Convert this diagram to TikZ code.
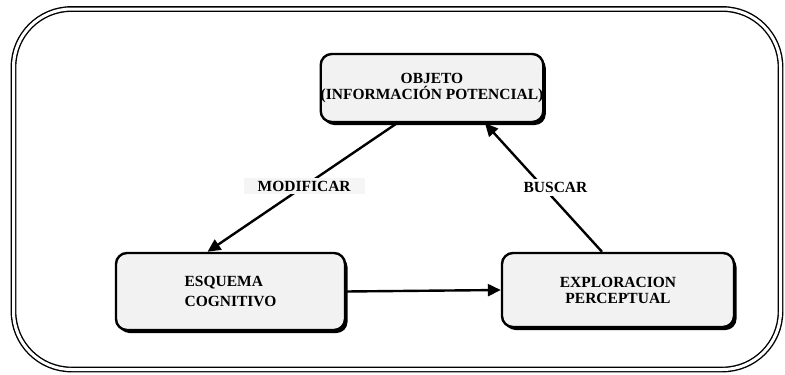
\documentclass[tikz,border=0pt]{standalone}
\usepackage{fontspec}
\setmainfont{Liberation Serif}
\usetikzlibrary{arrows.meta,shadows,calc}
\begin{document}
\begin{tikzpicture}[x=1pt,y=-1pt,
  box/.style={draw=black, line width=2.4pt, rounded corners=11pt, fill=black!5,
    font=\fontsize{15.5}{16}\selectfont\bfseries, align=center, inner sep=0pt,
    drop shadow={shadow xshift=2.5pt, shadow yshift=-3pt, fill=black, opacity=1}},
  conn/.style={line width=2.4pt, -{Triangle[length=13pt,width=12pt]}},
  lbl/.style={fill=white, inner sep=3pt, font=\fontsize{15.5}{16}\selectfont\bfseries},
  frame/.style={line width=1.4pt, double=white, double distance=3pt, rounded corners=58pt}]
\useasboundingbox (0,0) rectangle (785,375);
\draw[frame] (13.5,9) rectangle (780.5,369.5);
\node[box, minimum width=222pt, minimum height=68pt] (obj) at (432,88)
  {OBJETO\\(INFORMACIÓN POTENCIAL)};
\node[box, minimum width=229pt, minimum height=77pt, align=left, xshift=-2pt] (esq) at (232.5,291.5)
  {ESQUEMA\\[4pt]COGNITIVO};
\node[box, minimum width=232pt, minimum height=74pt] (exp) at (618,290)
  {EXPLORACION\\PERCEPTUAL};
\draw[conn] ([xshift=-35pt]obj.south) -- node[lbl, pos=0.49, fill=black!4, inner xsep=14pt] (mod) {MODIFICAR} ([xshift=-23pt]esq.north);
\draw[conn] ([xshift=-16pt]exp.north) -- node[lbl, pos=0.5, xshift=12pt] (bus) {BUSCAR} ([xshift=53pt]obj.south);
\draw[conn] (esq.east) -- (exp.west);
\end{tikzpicture}
\end{document}
